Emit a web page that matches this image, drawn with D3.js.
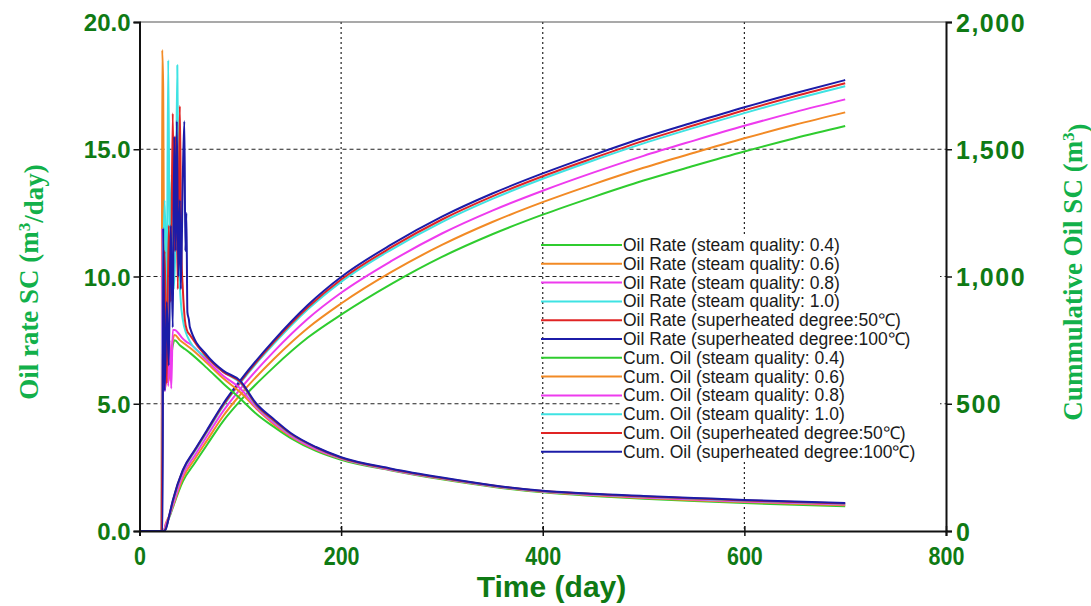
<!DOCTYPE html>
<html>
<head>
<meta charset="utf-8">
<script src="https://cdn.jsdelivr.net/npm/d3@7"></script>
<style>
  body { margin: 0; background: #fff; }
  svg { display: block; }
</style>
</head>
<body>
<script>
// colours of the six cases, in legend order
const caseColours = ["#2fcc2f", "#f28a25", "#ee3bee", "#3fe3e3", "#e02424", "#1c1ca8"];
const caseNames = ["steam quality: 0.4", "steam quality: 0.6", "steam quality: 0.8",
                   "steam quality: 1.0", "superheated degree:50\u2103", "superheated degree:100\u2103"];

const xTicks = [0, 200, 400, 600, 800];
const rateTicks = [0, 5, 10, 15, 20];
const cumTicks = [0, 500, 1000, 1500, 2000];

// oil rate, early (spiky) part as [day, rate]
const rateEarlyQ04 = [[0,0],[22,0],[22.5,7.5],[23.5,5.8],[25,7],[27,6.4],[29,7.2],[31,6.8],[33,7.3],[35,7.5],[40,7.3],[45,7.15]];
const rateEarlyQ06 = [[0,0],[22,0],[22.5,18.9],[23.5,17.4],[24.5,9],[25.5,5.6],[27,6.2],[29,5.9],[31,6.8],[33,7.5],[35,7.7],[40,7.5],[45,7.35]];
const rateEarlyQ08 = [[0,0],[22,0],[22.5,11.9],[24,7],[25.5,5.5],[27,8],[28.5,5.7],[30,7.5],[31.5,5.6],[33,7.9],[35,7.9],[38,7.8],[42,7.6],[46,7.45]];
const rateEarlyQ10 = [[0,0],[22,0],[23,9],[25,13],[27,9],[28.5,18.5],[30,11],[32,14],[34,9.5],[36,12],[37.5,18.3],[39,11],[41,9],[43,8.3],[46,7.8]];
const rateEarlyS50 = [[0,0],[22,0],[23,6],[25,11],[27,5.8],[29,12],[31,9],[33,16.4],[34.5,11],[36,15.5],[38,9.5],[40,16.7],[41.5,11],[43,9.5],[45,8.3],[47,7.9]];
const rateEarlyS100 = [[0,0],[23,0],[23.5,11.9],[25,5.5],[27,9],[29,6.5],[31,12],[33,8],[34.5,15.5],[36,11],[37,16.1],[38.5,10],[40,13],[41,9.5],[43,14],[44.5,16.1],[45.5,11],[46.5,12.5],[47.5,8.6],[49,8.3]];

// oil rate, smooth decline
const rateTailDays = [50, 67, 83, 100, 116, 133, 150, 175, 200, 250, 300, 350, 400, 450, 500, 550, 600, 650, 700];
const rateTailQ04 = [7.0, 6.4, 5.8, 5.2, 4.6, 4.1, 3.65, 3.15, 2.8, 2.38, 2.03, 1.74, 1.52, 1.38, 1.27, 1.18, 1.1, 1.03, 0.97];
const rateTailQ06 = [7.2, 6.6, 6.0, 5.45, 4.8, 4.2, 3.72, 3.2, 2.84, 2.4, 2.05, 1.76, 1.54, 1.4, 1.3, 1.21, 1.14, 1.07, 1.01];
const rateTailQ08 = [7.35, 6.7, 6.1, 5.6, 4.85, 4.25, 3.75, 3.22, 2.85, 2.4, 2.06, 1.77, 1.55, 1.42, 1.32, 1.24, 1.16, 1.1, 1.04];
const rateTailQ10 = [7.45, 6.8, 6.25, 5.82, 4.92, 4.33, 3.8, 3.27, 2.87, 2.42, 2.07, 1.78, 1.56, 1.44, 1.35, 1.27, 1.19, 1.13, 1.07];
const rateTailS50 = [7.7, 6.82, 6.25, 5.85, 4.95, 4.35, 3.82, 3.28, 2.88, 2.43, 2.08, 1.79, 1.57, 1.45, 1.36, 1.28, 1.2, 1.14, 1.08];
const rateTailS100 = [8.0, 6.9, 6.3, 5.9, 5.0, 4.4, 3.85, 3.3, 2.9, 2.45, 2.1, 1.8, 1.58, 1.46, 1.38, 1.3, 1.22, 1.16, 1.1];

// cumulative oil
const cumDays = [0, 24, 26, 30, 33, 43, 55, 67, 83, 100, 133, 167, 200, 250, 300, 350, 400, 450, 500, 550, 600, 650, 700];
const cumQ04 = [0, 0, 22, 58, 92, 195, 268, 339, 432, 512, 643, 760, 850, 971, 1077, 1166, 1243, 1312, 1377, 1435, 1491, 1543, 1591];
const cumQ06 = [0, 0, 28, 64, 96, 208, 284, 356, 452, 536, 675, 798, 894, 1018, 1124, 1214, 1292, 1362, 1427, 1486, 1543, 1596, 1645];
const cumQ08 = [0, 0, 24, 62, 100, 221, 298, 373, 471, 558, 704, 834, 936, 1061, 1169, 1259, 1337, 1408, 1474, 1534, 1592, 1646, 1696];
const cumQ10 = [0, 0, 12, 66, 112, 234, 313, 389, 490, 582, 734, 871, 979, 1106, 1214, 1305, 1384, 1456, 1523, 1584, 1642, 1697, 1748];
const cumS50 = [0, 0, 10, 68, 116, 237, 317, 393, 495, 586, 741, 879, 988, 1115, 1224, 1315, 1394, 1465, 1533, 1594, 1653, 1708, 1759];
const cumS100 = [0, 0, 6, 70, 120, 240, 320, 397, 500, 592, 748, 888, 998, 1126, 1235, 1326, 1405, 1477, 1545, 1606, 1665, 1720, 1772];

window.onload = function() {
  const w = 1091;
  const h = 606;
  const left = 139.5, right = 946, top = 22, bottom = 531;
  const tickGreen = "#0f7a14";
  const titleGreen = "#12b04a";

  const svg = d3.select("body").append("svg")
    .attr("width", w)
    .attr("height", h);

  const xScale = d3.scaleLinear().domain([0, 800]).range([left, right]);
  const rateScale = d3.scaleLinear().domain([0, 20]).range([bottom, top]);
  const cumScale = d3.scaleLinear().domain([0, 2000]).range([bottom, top]);

  // gridlines
  svg.selectAll(".vgrid")
     .data(xTicks.slice(1, -1))
     .enter()
     .append("line")
     .attr("x1", d => xScale(d)).attr("x2", d => xScale(d))
     .attr("y1", top).attr("y2", bottom)
     .attr("stroke", "#222").attr("stroke-width", 1.2)
     .attr("stroke-dasharray", "2,3");
  svg.selectAll(".hgrid")
     .data(rateTicks.slice(1, -1))
     .enter()
     .append("line")
     .attr("x1", left).attr("x2", right)
     .attr("y1", d => rateScale(d)).attr("y2", d => rateScale(d))
     .attr("stroke", "#222").attr("stroke-width", 1.2)
     .attr("stroke-dasharray", "4,3");

  // top frame line
  svg.append("line")
     .attr("x1", left).attr("x2", right)
     .attr("y1", top).attr("y2", top)
     .attr("stroke", "#555").attr("stroke-width", 1.2);

  // build series
  const rateEarly = [rateEarlyQ04, rateEarlyQ06, rateEarlyQ08, rateEarlyQ10, rateEarlyS50, rateEarlyS100];
  const rateTail = [rateTailQ04, rateTailQ06, rateTailQ08, rateTailQ10, rateTailS50, rateTailS100];
  const cums = [cumQ04, cumQ06, cumQ08, cumQ10, cumS50, cumS100];

  const rateSeries = rateEarly.map(function(early, i) {
    return early.concat(rateTailDays.map((d, j) => [d, rateTail[i][j]]));
  });
  const cumSeries = cums.map(c => cumDays.map((d, j) => [d, c[j]]));

  const rateLine = d3.line().curve(d3.curveMonotoneX)
    .x(d => xScale(d[0])).y(d => rateScale(d[1]));
  const cumLine = d3.line().curve(d3.curveMonotoneX)
    .x(d => xScale(d[0])).y(d => cumScale(d[1]));

  svg.selectAll(".cum")
     .data(cumSeries)
     .enter()
     .append("path")
     .attr("d", cumLine)
     .attr("fill", "none")
     .attr("stroke", (d, i) => caseColours[i])
     .attr("stroke-width", 2);
  svg.selectAll(".rate")
     .data(rateSeries)
     .enter()
     .append("path")
     .attr("d", rateLine)
     .attr("fill", "none")
     .attr("stroke", (d, i) => caseColours[i])
     .attr("stroke-width", 2)
     .attr("stroke-linejoin", "round");

  // axes
  const yAxisL = d3.axisLeft(rateScale).tickValues(rateTicks).tickSize(6).tickFormat(d3.format(".1f"));
  const yAxisR = d3.axisRight(cumScale).tickValues(cumTicks).tickSize(6).tickFormat(d3.format(","));
  const xAxis = d3.axisBottom(xScale).tickValues(xTicks).tickSize(5);

  const gl = svg.append("g").attr("transform", "translate(" + left + ",0)").call(yAxisL);
  const gr = svg.append("g").attr("transform", "translate(" + right + ",0)").call(yAxisR);
  const gx = svg.append("g").attr("transform", "translate(0," + bottom + ")").call(xAxis);

  [gl, gr, gx].forEach(function(g) {
    g.select(".domain").attr("stroke", "#111").attr("stroke-width", 2);
    g.selectAll(".tick line").attr("stroke", "#111").attr("stroke-width", 1.5);
    g.selectAll("text")
     .attr("fill", tickGreen)
     .style("font-family", "'Liberation Sans', Arial, sans-serif")
     .style("font-weight", "bold");
  });
  gl.selectAll("text").style("font-size", "24px").attr("x", -9).attr("dy", "0.36em");
  gr.selectAll("text").style("font-size", "25px").style("letter-spacing", "1.5px")
    .attr("x", 10).attr("dy", "0.36em");
  gx.selectAll(".tick line").attr("y1", -5);
  gx.selectAll("text").style("font-size", "25px").attr("y", 16).attr("dy", "0.71em")
    .attr("transform", "scale(0.86,1)");

  // axis titles
  svg.append("text")
     .attr("transform", "translate(" + (w / 2 + 6) + ",597)")
     .style("text-anchor", "middle")
     .style("font-family", "'Liberation Sans', Arial, sans-serif")
     .style("font-weight", "bold")
     .style("font-size", "30px")
     .attr("fill", tickGreen)
     .text("Time (day)");

  const lt = svg.append("text")
     .attr("transform", "translate(38,282) rotate(-90)")
     .style("text-anchor", "middle")
     .style("font-family", "'Liberation Serif', 'Times New Roman', serif")
     .style("font-weight", "bold")
     .style("font-size", "27px")
     .attr("fill", titleGreen);
  lt.append("tspan").text("Oil rate SC (m");
  lt.append("tspan").attr("dy", "-0.45em").style("font-size", "17px").text("3");
  lt.append("tspan").attr("dy", "0.45em").text("/day)");

  const rt = svg.append("text")
     .attr("transform", "translate(1082,272) rotate(-90)")
     .style("text-anchor", "middle")
     .style("font-family", "'Liberation Serif', 'Times New Roman', serif")
     .style("font-weight", "bold")
     .style("font-size", "27px")
     .attr("fill", titleGreen);
  rt.append("tspan").text("Cummulative Oil  SC (m");
  rt.append("tspan").attr("dy", "-0.45em").style("font-size", "17px").text("3");
  rt.append("tspan").attr("dy", "0.45em").text(")");

  // legend
  const legendLabels = [];
  caseNames.forEach(n => legendLabels.push("Oil Rate (" + n + ")"));
  caseNames.forEach(n => legendLabels.push("Cum. Oil (" + n + ")"));

  svg.append("rect")
     .attr("x", 622).attr("y", 236)
     .attr("width", 318).attr("height", 226)
     .attr("fill", "#fff");

  const legend = svg.append("g").attr("class", "legend");
  legend.selectAll("line")
     .data(legendLabels)
     .enter()
     .append("line")
     .attr("x1", 541).attr("x2", 622)
     .attr("y1", (d, i) => 245 + i * 18.8)
     .attr("y2", (d, i) => 245 + i * 18.8)
     .attr("stroke", (d, i) => caseColours[i % 6])
     .attr("stroke-width", 2);
  legend.selectAll("text")
     .data(legendLabels)
     .enter()
     .append("text")
     .attr("x", 623)
     .attr("y", (d, i) => 251 + i * 18.8)
     .style("font-family", "'Liberation Sans', Arial, sans-serif")
     .style("font-size", "17.5px")
     .attr("fill", "#1a1a1a")
     .text(d => d);
};
</script>
</body>
</html>
